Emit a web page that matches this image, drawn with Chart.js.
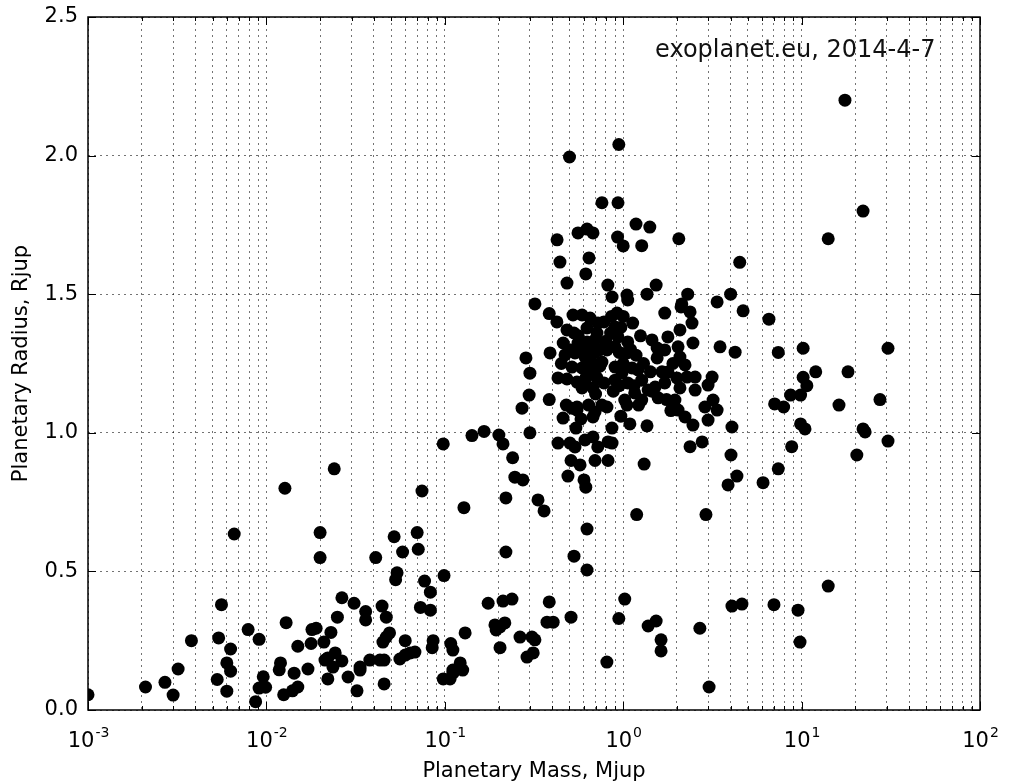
<!DOCTYPE html>
<html>
<head>
<meta charset="utf-8">
<script src="https://cdn.jsdelivr.net/npm/chart.js@4"></script>
<style>
  html, body { margin: 0; padding: 0; background: #fff; }
</style>
</head>
<body>
<canvas id="myChart" width="1009" height="784"></canvas>
<script>
// planetary mass (Mjup) and radius (Rjup) in groups
var smallMass = [0.001, 0.0021, 0.0027, 0.0030, 0.0032, 0.0038, 0.0053, 0.0054, 0.0056, 0.0060, 0.0060, 0.0063, 0.0063, 0.0066, 0.0079, 0.0087, 0.0091, 0.0091, 0.0099, 0.0096, 0.0127, 0.0120, 0.0118, 0.0125,
  0.098, 0.024, 0.0745, 0.020, 0.052, 0.070, 0.058, 0.071, 0.020, 0.041, 0.099, 0.054, 0.053, 0.077, 0.083, 0.0265, 0.031, 0.0445, 0.036, 0.047, 0.036, 0.073, 0.083, 0.025, 0.0129, 0.018, 0.019, 0.023, 0.0178, 0.021, 0.015, 0.047, 0.049, 0.045, 0.060, 0.086, 0.085, 0.108, 0.068, 0.064, 0.060, 0.056, 0.0457, 0.0433, 0.038, 0.0243, 0.0221, 0.0265, 0.0236, 0.0213, 0.0335, 0.0335, 0.0287, 0.0221, 0.0322, 0.0457, 0.0143, 0.0171, 0.015, 0.014, 0.098, 0.107, 0.111];
var smallRadius = [0.055, 0.083, 0.10, 0.054, 0.148, 0.25, 0.11, 0.26, 0.38, 0.17, 0.068, 0.14, 0.22, 0.635, 0.29, 0.03, 0.255, 0.079, 0.082, 0.12, 0.80, 0.17, 0.145, 0.055,
  0.96, 0.87, 0.79, 0.64, 0.625, 0.64, 0.57, 0.58, 0.55, 0.55, 0.485, 0.495, 0.47, 0.465, 0.425, 0.405, 0.385, 0.375, 0.355, 0.335, 0.325, 0.37, 0.36, 0.335, 0.315, 0.29, 0.295, 0.28, 0.24, 0.245, 0.23, 0.263, 0.278, 0.245, 0.25, 0.25, 0.225, 0.24, 0.209, 0.206, 0.198, 0.184, 0.18, 0.18, 0.18, 0.206, 0.188, 0.177, 0.155, 0.18, 0.155, 0.144, 0.119, 0.112, 0.069, 0.094, 0.133, 0.148, 0.083, 0.069, 0.112, 0.112, 0.144];

var midMass = [0.24, 0.247, 0.274, 0.22, 0.128, 0.333, 0.36, 0.627, 0.22, 0.53, 0.627, 0.51, 0.573, 0.695, 0.49, 0.603, 0.617, 0.175, 0.212, 0.238, 0.385, 0.191, 0.204, 0.217, 0.194, 0.204, 0.374, 0.405, 0.51, 0.264, 0.308, 0.32, 0.289, 0.313, 0.13, 0.111, 0.122, 0.126, 0.111];
var midRadius = [0.91, 0.84, 0.83, 0.765, 0.73, 0.758, 0.718, 0.653, 0.57, 0.555, 0.505, 0.90, 0.884, 0.90, 0.844, 0.83, 0.804, 0.385, 0.393, 0.40, 0.39, 0.307, 0.30, 0.314, 0.289, 0.225, 0.317, 0.317, 0.335, 0.263, 0.263, 0.253, 0.191, 0.206, 0.278, 0.216, 0.17, 0.144, 0.133];

var heavyMass = [0.72, 0.866, 0.822, 1.31, 2.37, 2.77, 4.02, 4.34, 3.87, 1.19, 2.91, 1.02, 0.945, 1.38, 1.53, 1.63, 1.63, 0.81, 2.69, 3.03, 4.07, 4.63, 6.08, 7.4, 8.8, 20.4, 30.5, 14.1, 7.0, 9.55, 9.8];
var heavyRadius = [0.949, 0.963, 0.90, 0.887, 0.95, 0.967, 0.92, 0.844, 0.812, 0.705, 0.705, 0.40, 0.33, 0.303, 0.321, 0.253, 0.213, 0.173, 0.295, 0.083, 0.375, 0.382, 0.82, 0.87, 0.95, 0.92, 0.97, 0.447, 0.38, 0.36, 0.245];

var inflatedMass = [4.7, 6.56, 7.4, 10.2, 30.5, 12.0, 18.2, 10.2, 10.7, 8.67, 9.87, 7.06, 7.93, 16.2, 27.5, 9.87, 10.45, 22.1, 22.7, 17.5, 22.1, 14.1, 4.5, 0.50, 0.76, 0.558, 0.627, 0.677, 0.426, 0.442, 0.643, 0.617, 0.484, 0.32, 0.945, 0.935, 1.18, 1.41, 2.05, 0.93, 1.0, 1.27, 0.82, 0.866, 1.05, 1.06, 1.36, 1.53, 2.3, 2.13, 3.36, 4.0];
var inflatedRadius = [1.44, 1.41, 1.29, 1.305, 1.305, 1.22, 1.22, 1.20, 1.17, 1.136, 1.136, 1.104, 1.093, 1.10, 1.12, 1.032, 1.014, 1.014, 1.003, 2.2, 1.80, 1.70, 1.615, 1.995, 1.83, 1.721, 1.735, 1.721, 1.696, 1.616, 1.631, 1.573, 1.54, 1.465, 2.04, 1.83, 1.753, 1.742, 1.70, 1.706, 1.674, 1.675, 1.533, 1.49, 1.497, 1.479, 1.50, 1.533, 1.50, 1.465, 1.472, 1.50];

var clusterMass = [0.385, 0.425, 0.484, 0.285, 0.389, 0.30, 0.297, 0.385, 0.271, 0.30, 0.142, 0.166, 0.201, 0.212, 0.46, 0.516, 0.551, 0.543, 0.431, 0.484, 0.431, 0.503, 0.537, 0.611, 0.677, 0.677,
  0.523, 0.588, 0.652, 0.627, 0.713, 0.461, 0.558, 0.627, 0.472, 0.537, 0.611, 0.695, 0.516, 0.588, 0.652, 0.713, 0.551, 0.611, 0.588, 0.677, 0.551,
  0.923, 1.13, 0.900, 0.935, 0.722, 0.695, 0.811, 0.900, 1.06, 1.05, 0.760, 0.695, 0.900, 0.984, 1.12, 1.21, 0.900, 1.06, 1.27, 1.38, 1.16, 1.02, 1.27, 1.57, 0.811, 0.695, 0.865, 1.09, 1.36, 0.822,
  1.71, 2.11, 2.37, 2.43, 2.08, 1.78, 1.45, 1.55, 1.71, 2.03, 2.46, 2.08, 1.55, 2.22, 1.78, 2.00, 2.28, 2.53, 2.99, 2.53, 2.08, 1.71, 1.51, 1.95, 2.03, 2.22, 2.46, 2.87, 3.19, 3.36, 2.99, 3.15, 3.49, 4.24, 4.07];
var clusterRadius = [1.43, 1.40, 1.371, 1.27, 1.288, 1.215, 1.136, 1.12, 1.089, 1.0, 0.99, 1.005, 0.992, 0.96, 1.053, 1.089, 1.082, 1.017, 1.198, 1.194, 0.963, 0.963, 0.949, 0.974, 0.985, 1.057,
  1.425, 1.425, 1.414, 1.378, 1.360, 1.324, 1.324, 1.328, 1.281, 1.288, 1.273, 1.291, 1.237, 1.234, 1.219, 1.198, 1.183, 1.183, 1.162, 1.162, 1.093,
  1.432, 1.396, 1.382, 1.346, 1.396, 1.335, 1.299, 1.310, 1.328, 1.288, 1.255, 1.227, 1.237, 1.216, 1.234, 1.227, 1.190, 1.180, 1.190, 1.154, 1.144, 1.118, 1.118, 1.126, 1.093, 1.075, 1.017, 1.032, 1.025, 0.967,
  1.432, 1.454, 1.436, 1.396, 1.371, 1.346, 1.335, 1.306, 1.299, 1.310, 1.324, 1.273, 1.270, 1.245, 1.219, 1.198, 1.201, 1.201, 1.172, 1.154, 1.162, 1.180, 1.165, 1.118, 1.082, 1.057, 1.028, 1.093, 1.118, 1.082, 1.046, 1.201, 1.310, 1.291, 1.021];

// points hidden inside the dense blob around 1 Mjup
var coreMass = [0.56, 0.60, 0.66, 0.74, 0.80, 0.85, 0.97, 1.0, 0.95, 0.88, 0.78, 0.74, 0.66, 0.62, 0.70, 0.76, 0.64, 0.58, 0.48, 0.45, 0.53, 0.50, 1.10, 1.18, 1.30, 1.15, 1.05, 0.97, 1.22, 1.45, 1.75, 1.85, 1.9, 1.65, 1.42, 0.86, 0.78, 1.0, 1.25, 0.95];
var coreRadius = [1.35, 1.30, 1.31, 1.30, 1.33, 1.36, 1.38, 1.25, 1.17, 1.15, 1.18, 1.24, 1.26, 1.20, 1.14, 1.10, 1.10, 1.05, 1.10, 1.25, 1.36, 1.30, 1.30, 1.28, 1.25, 1.17, 1.10, 1.06, 1.10, 1.15, 1.12, 1.08, 1.25, 1.22, 1.22, 1.42, 1.40, 1.42, 1.35, 1.29];

var decadeTicks = [0.001, 0.01, 0.1, 1, 10, 100];
var decadeExponents = ['-3', '-2', '-1', '0', '1', '2'];
var minorSteps = [1, 2, 3, 4, 5, 6, 7, 8, 9];
var radiusTicks = [0, 0.5, 1, 1.5, 2, 2.5];
var noteText = 'exoplanet.eu, 2014-4-7';

var FONT = 'DejaVu Sans';

function toPoints(mass, radius) {
  var pts = [];
  for (var i = 0; i < mass.length; i++) {
    pts.push({x: mass[i], y: radius[i]});
  }
  return pts;
}

var allPoints = [].concat(
  toPoints(smallMass, smallRadius),
  toPoints(midMass, midRadius),
  toPoints(heavyMass, heavyRadius),
  toPoints(inflatedMass, inflatedRadius),
  toPoints(clusterMass, clusterRadius),
  toPoints(coreMass, coreRadius)
);

// frame, inward ticks, 10^n labels and the note
var framePlugin = {
  id: 'frame',
  afterDraw: function(chart) {
    var ctx = chart.ctx;
    var a = chart.chartArea;
    var xs = chart.scales.x;
    var ys = chart.scales.y;
    ctx.save();
    ctx.strokeStyle = '#000';
    ctx.lineWidth = 1;
    ctx.setLineDash([]);
    ctx.beginPath();
    xs.ticks.forEach(function(t) {
      var px = Math.round(xs.getPixelForValue(t.value)) + 0.5;
      var len = decadeTicks.indexOf(t.value) >= 0 ? 8 : 4;
      ctx.moveTo(px, a.bottom); ctx.lineTo(px, a.bottom - len);
      ctx.moveTo(px, a.top); ctx.lineTo(px, a.top + len);
    });
    radiusTicks.forEach(function(v) {
      var py = Math.round(ys.getPixelForValue(v)) + 0.5;
      ctx.moveTo(a.left, py); ctx.lineTo(a.left + 8, py);
      ctx.moveTo(a.right, py); ctx.lineTo(a.right - 8, py);
    });
    ctx.stroke();

    ctx.lineWidth = 1.5;
    ctx.strokeRect(a.left, a.top, a.right - a.left, a.bottom - a.top);

    // x tick labels as 10 with a raised exponent
    ctx.fillStyle = '#000';
    ctx.textBaseline = 'alphabetic';
    ctx.textAlign = 'left';
    decadeTicks.forEach(function(v, i) {
      var px = xs.getPixelForValue(v);
      ctx.font = '21px "' + FONT + '"';
      var wBase = ctx.measureText('10').width;
      ctx.font = '14px "' + FONT + '"';
      var wExp = ctx.measureText(decadeExponents[i]).width;
      var x0 = px - (wBase + wExp) / 2;
      ctx.font = '21px "' + FONT + '"';
      ctx.fillText('10', x0, a.bottom + 37);
      ctx.font = '14px "' + FONT + '"';
      ctx.fillText(decadeExponents[i], x0 + wBase + 1, a.bottom + 27);
    });

    ctx.font = '24px "' + FONT + '"';
    ctx.textAlign = 'right';
    ctx.textBaseline = 'middle';
    ctx.fillStyle = '#111';
    ctx.fillText(noteText, a.left + (a.right - a.left) * 0.95, a.top + 34);
    ctx.restore();
  }
};

var ctx = document.getElementById('myChart').getContext('2d');
var chart = new Chart(ctx, {
  type: 'scatter',
  data: {
    datasets: [{
      label: 'planets',
      data: allPoints,
      backgroundColor: '#000',
      borderColor: '#000',
      borderWidth: 0,
      pointRadius: 6.5,
      pointHoverRadius: 6.5
    }]
  },
  options: {
    responsive: false,
    animation: false,
    events: [],
    layout: { padding: { left: 0, right: 29, top: 17, bottom: 0 } },
    plugins: {
      legend: { display: false },
      tooltip: { enabled: false }
    },
    scales: {
      x: {
        type: 'logarithmic',
        min: 0.001,
        max: 100,
        afterBuildTicks: function(scale) {
          var ticks = [];
          for (var d = 0; d < decadeTicks.length - 1; d++) {
            minorSteps.forEach(function(m) {
              ticks.push({ value: +(decadeTicks[d] * m).toPrecision(3) });
            });
          }
          ticks.push({ value: decadeTicks[decadeTicks.length - 1] });
          scale.ticks = ticks;
        },
        afterFit: function(scale) {
          scale.height = 74;
          scale.paddingLeft = 0;
          scale.paddingRight = 0;
        },
        ticks: { display: false },
        grid: { color: 'rgba(0,0,0,0.55)', lineWidth: 1, drawTicks: false },
        border: { display: false, dash: [2, 4] },
        title: {
          display: true,
          text: 'Planetary Mass, Mjup',
          color: '#000',
          font: { family: FONT, size: 21 },
          padding: { top: 0, bottom: 0 }
        }
      },
      y: {
        type: 'linear',
        min: 0,
        max: 2.5,
        afterBuildTicks: function(scale) {
          scale.ticks = radiusTicks.map(function(v) { return { value: v }; });
        },
        afterFit: function(scale) {
          scale.width = 88;
          scale.paddingTop = 0;
          scale.paddingBottom = 0;
        },
        ticks: {
          color: '#000',
          padding: 10,
          font: { family: FONT, size: 21 },
          callback: function(v) { return Number(v).toFixed(1); }
        },
        grid: { color: 'rgba(0,0,0,0.55)', lineWidth: 1, drawTicks: false },
        border: { display: false, dash: [2, 4] },
        title: {
          display: true,
          text: 'Planetary Radius, Rjup',
          color: '#000',
          font: { family: FONT, size: 21 },
          padding: { top: 9, bottom: 0 }
        }
      }
    }
  },
  plugins: [framePlugin]
});
</script>
</body>
</html>
